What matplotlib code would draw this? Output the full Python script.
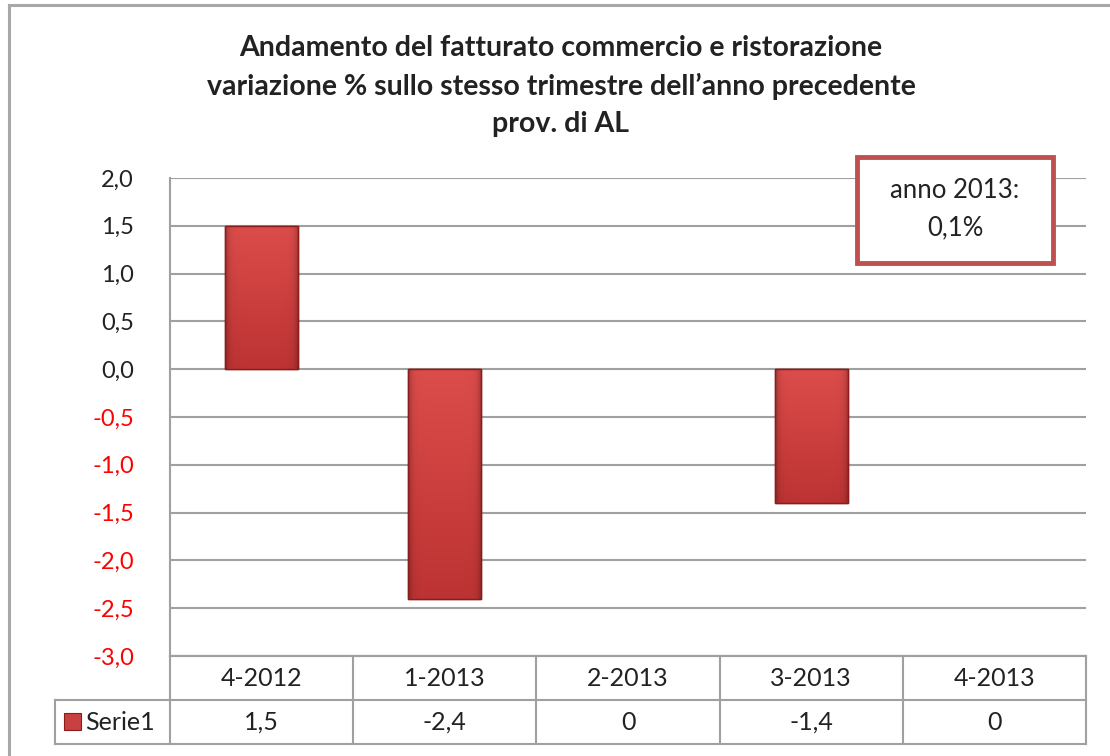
import matplotlib
matplotlib.use("Agg")
import matplotlib.pyplot as plt
import matplotlib.transforms as mtransforms
from matplotlib.patches import Rectangle
from matplotlib.lines import Line2D
import numpy as np

# Chart data
quarters = ["4-2012", "1-2013", "2-2013", "3-2013", "4-2013"]
values = [1.5, -2.4, 0, -1.4, 0]
value_labels = ["1,5", "-2,4", "0", "-1,4", "0"]
series_name = "Serie1"
y_ticks = [-3.0, -2.5, -2.0, -1.5, -1.0, -0.5, 0.0, 0.5, 1.0, 1.5, 2.0]
title_lines = [
    "Andamento del fatturato commercio e ristorazione",
    "variazione % sullo stesso trimestre dell\u2019anno precedente",
    "prov. di AL",
]
note_lines = ["anno 2013:", "0,1%"]

plt.rcParams["font.family"] = ["Lato", "DejaVu Sans"]

W, H = 1110, 756
fig = plt.figure(figsize=(W / 100, H / 100), dpi=100)


def fx(px):
    return px / W


def fy(py):
    return 1 - py / H


GRID = "#A0A0A0"
TEXT = "#222222"

ax = fig.add_axes([fx(170), fy(656), fx(1086) - fx(170), fy(178) - fy(656)])
ax.set_xlim(-0.5, len(quarters) - 0.5)
ax.set_ylim(-3.0, 2.0)

# bars with a simple shaded fill
x = np.arange(len(quarters))
bars = ax.bar(x, values, width=0.4, color="#C94040", edgecolor="#8A1C1C",
              linewidth=1.0, zorder=3)

ny, nx = 60, 60
t = np.linspace(0, 1, ny)[:, None]
s = np.linspace(0, 1, nx)[None, :]
light = np.array([0.86, 0.30, 0.29])
dark = np.array([0.74, 0.20, 0.20])
base = light[None, None, :] * (1 - t[..., None]) + dark[None, None, :] * t[..., None]
edge_d = np.minimum(s, 1 - s)
shade = 1 - 0.30 * np.exp(-edge_d / 0.04)
grad = np.clip(base * shade[..., None], 0, 1)

for bar in bars:
    h = bar.get_height()
    if h == 0:
        bar.set_visible(False)
        continue
    x0, w, y0 = bar.get_x(), bar.get_width(), bar.get_y()
    ext = [x0, x0 + w, min(y0, y0 + h), max(y0, y0 + h)]
    im = ax.imshow(grad, extent=ext, aspect="auto", zorder=3.5, origin="upper")
    im.set_clip_path(bar)
    ax.add_patch(Rectangle((x0, ext[2]), w, ext[3] - ext[2], fill=False,
                           edgecolor="#8A1C1C", linewidth=1.0, zorder=4))

ax.set_xlim(-0.5, len(quarters) - 0.5)
ax.set_ylim(-3.0, 2.0)
ax.set_aspect("auto")

# axes styling
ax.set_yticks(y_ticks)
ax.set_yticklabels([f"{v:.1f}".replace(".", ",") for v in y_ticks])
for lab, v in zip(ax.get_yticklabels(), y_ticks):
    lab.set_color("#FF0000" if v < 0 else TEXT)
ax.tick_params(axis="y", length=0, pad=26, labelsize=17)
ax.set_xticks([])
ax.grid(axis="y", color=GRID, linewidth=1.5, zorder=0)
for side in ["top", "right"]:
    ax.spines[side].set_visible(False)
ax.spines["left"].set_color(GRID)
ax.spines["left"].set_linewidth(1.5)
ax.spines["bottom"].set_color(GRID)
ax.spines["bottom"].set_linewidth(1.5)

# data table under the plot
trans = mtransforms.blended_transform_factory(ax.transData, fig.transFigure)
y_top, y_mid, y_bot = fy(656), fy(700), fy(744)
xl, xr = -0.5, len(quarters) - 0.5
line_kw = dict(color=GRID, linewidth=1.5, clip_on=False)
for xb in np.arange(len(quarters) + 1) - 0.5:
    ax.add_line(Line2D([xb, xb], [y_top, y_bot], transform=trans, **line_kw))
ax.add_line(Line2D([xl, xr], [y_top, y_top], transform=trans, **line_kw))
ax.add_line(Line2D([xl, xr], [y_mid, y_mid], transform=trans, **line_kw))
ax.add_line(Line2D([xl, xr], [y_bot, y_bot], transform=trans, **line_kw))
fig.add_artist(Line2D([fx(55), fx(170)], [y_mid, y_mid], **line_kw))
fig.add_artist(Line2D([fx(55), fx(170)], [y_bot, y_bot], **line_kw))
fig.add_artist(Line2D([fx(55), fx(55)], [y_mid, y_bot], **line_kw))

for xi, q, lab in zip(x, quarters, value_labels):
    ax.text(xi, fy(678), q, transform=trans, ha="center", va="center",
            fontsize=18, color=TEXT)
    ax.text(xi, fy(722), lab, transform=trans, ha="center", va="center",
            fontsize=18, color=TEXT)

fig.add_artist(Rectangle((fx(64), fy(730)), fx(81) - fx(64), fy(713) - fy(730),
                         facecolor="#C94040", edgecolor="#8A1C1C", linewidth=0.8))
fig.text(fx(85), fy(722), series_name, ha="left", va="center", fontsize=18, color=TEXT)

# title
for line, py in zip(title_lines, [48, 86, 124]):
    fig.text(fx(561), fy(py), line, ha="center", va="center", fontsize=20.5,
             fontweight="bold", color=TEXT)

# annual note box
fig.add_artist(Rectangle((fx(857), fy(263)), fx(1053) - fx(857), fy(157) - fy(263),
                         facecolor="white", edgecolor="#C0504D", linewidth=3.5,
                         zorder=10))
for line, py in zip(note_lines, [190, 228]):
    fig.text(fx(955), fy(py), line, ha="center", va="center", fontsize=18.5,
             color=TEXT, zorder=11)

# outer chart frame (only top and left visible)
frame_kw = dict(color="#A8A8A8", linewidth=2.2)
fig.add_artist(Line2D([fx(9), 1.0], [fy(5), fy(5)], **frame_kw))
fig.add_artist(Line2D([fx(9), fx(9)], [fy(5), 0.0], **frame_kw))

fig.savefig("out.png", dpi=100, facecolor="white")
